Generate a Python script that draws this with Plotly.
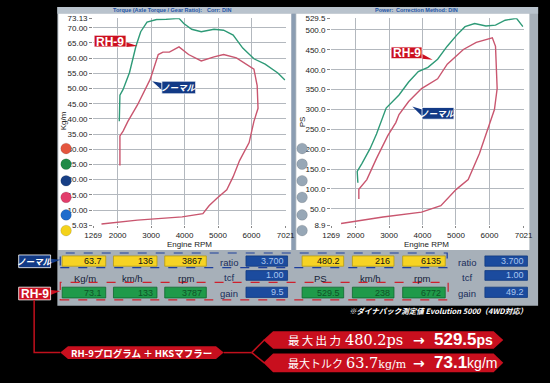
import plotly.graph_objects as go

# ---------------- data ----------------
rpm_ticks = [1269, 2000, 3000, 4000, 5000, 6000, 7021]
torque_ticks = [5.03, 10, 15, 20, 25, 30, 35, 40, 45, 50, 55, 60, 65, 70, 73.13]
torque_tick_labels = ["5.03", "10.00", "15.00", "20.00", "25.00", "30.00", "35.00", "40.00",
                      "45.00", "50.00", "55.00", "60.00", "65.00", "70.00", "73.13"]
power_ticks = [8.9, 50, 100, 150, 200, 250, 300, 350, 400, 450, 500, 529.5]
power_tick_labels = ["8.9", "50.0", "100.0", "150.0", "200.0", "250.0", "300.0", "350.0",
                     "400.0", "450.0", "500.0", "529.5"]

torque_rh9_rpm = [2050, 2069, 2164, 2356, 2547, 2690, 2879, 3165, 3451, 3642, 3834, 3977, 4214,
                  4500, 4881, 5167, 5453, 5739, 6073, 6408, 6788, 7000]
torque_rh9 = [39.2, 47.8, 49.7, 55.3, 63.9, 68.7, 71.9, 72.7, 72.8, 73.0, 73.1, 71.4, 69.5,
              68.7, 69.5, 69.2, 67.6, 63.3, 59.8, 58.0, 55.1, 52.8]

torque_normal_rpm = [2069, 2069, 2164, 2307, 2593, 2785, 2976, 3214, 3356, 3547, 3834, 4120, 4500,
                     4881, 5167, 5550, 5930, 6073, 6170, 6196, 6073, 5930, 5644, 5453, 5262, 5072,
                     4977, 4738, 4548, 3928, 2593, 1518]
torque_normal = [24.7, 34.4, 36.0, 39.2, 44.6, 48.9, 53.1, 61.2, 62.0, 62.0, 63.7, 61.2, 59.1,
                 60.4, 61.2, 60.1, 57.4, 56.4, 51.0, 43.5, 39.2, 32.2, 26.3, 21.0, 16.7, 15.1,
                 14.0, 11.5, 8.85, 7.75, 6.7, 5.4]

power_rh9_rpm = [2069, 2049, 2193, 2433, 2626, 2770, 2914, 3298, 3586, 3875, 4163, 4452, 4740,
                 5029, 5271, 5559, 5894, 6182, 6471, 6808, 7001]
power_rh9 = [115.5, 144, 164.6, 201.4, 238.3, 271, 303.6, 336.5, 369, 395.4, 406, 426.3, 459.2,
             487.7, 508.3, 516.4, 509.9, 512.3, 524.5, 529.5, 508.3]

power_normal_rpm = [2098, 2098, 2337, 2626, 2963, 3203, 3298, 3586, 3971, 4452, 4740, 5222, 5607,
                    6087, 6182, 6231, 6150, 6000, 5702, 5366, 5010, 4549, 3972, 2819, 1567]
power_normal = [74.5, 99, 123.6, 176.9, 234, 267, 287.4, 320, 352.7, 377.2, 414, 451, 469,
                480.2, 459, 352.7, 300, 262, 189.2, 123.6, 99, 58, 41.8, 29.6, 13.2]

normal_values_left = ["63.7", "136", "3867"]
normal_values_right = ["480.2", "216", "6135"]
rh9_values_left = ["73.1", "133", "3787"]
rh9_values_right = ["529.5", "238", "6772"]
col_labels_left = ["Kg/m", "km/h", "rpm"]
col_labels_right = ["PS", "km/h", "rpm"]
side_labels = ["ratio", "tcf", "gain"]
side_values_left = ["3.700", "1.00", "9.5"]
side_values_right = ["3.700", "1.00", "49.2"]

# ---------------- helpers ----------------
W, H = 550, 383
def X(p): return p / W
def Y(p): return 1 - p / H

shapes, annots = [], []

def rect(x0, y0, x1, y1, fill, line=None, lw=0, dash=None, layer="above"):
    shapes.append(dict(type="rect", xref="paper", yref="paper", x0=X(x0), x1=X(x1),
                       y0=Y(y1), y1=Y(y0), fillcolor=fill, layer=layer,
                       line=dict(color=line or "rgba(0,0,0,0)", width=lw, dash=dash)))

def poly(pts, fill, line=None, lw=0, layer="above"):
    d = "M " + " L ".join(f"{X(a):.5f},{Y(b):.5f}" for a, b in pts) + " Z"
    shapes.append(dict(type="path", xref="paper", yref="paper", path=d, fillcolor=fill,
                       layer=layer, line=dict(color=line or "rgba(0,0,0,0)", width=lw)))

def seg(pts, color, lw):
    d = "M " + " L ".join(f"{X(a):.5f},{Y(b):.5f}" for a, b in pts)
    shapes.append(dict(type="path", xref="paper", yref="paper", path=d,
                       line=dict(color=color, width=lw), layer="above"))

def circle(cx, cy, r, fill):
    shapes.append(dict(type="circle", xref="paper", yref="paper", x0=X(cx - r), x1=X(cx + r),
                       y0=Y(cy + r), y1=Y(cy - r), fillcolor=fill, layer="above",
                       line=dict(color="rgba(0,0,0,0.25)", width=0.5)))

def text(x, y, s, size=9, color="#111", family="Liberation Sans, Arial", xa="center",
         ya="middle", angle=0):
    annots.append(dict(x=X(x), y=Y(y), xref="paper", yref="paper", text=s, showarrow=False,
                       xanchor=xa, yanchor=ya, textangle=angle,
                       font=dict(size=size, color=color, family=family)))

# ---------------- panel backgrounds ----------------
rect(50, 3, 547, 309, "#a7b0b9", layer="below")
rect(50, 3, 547, 10, "#b9c3cd", layer="below")
rect(51, 10, 292, 252, "#ffffff", layer="below")
rect(297, 10, 538, 252, "#ffffff", layer="below")
rect(292, 10, 296, 252, "#8b9db2", layer="below")

text(154, 6.5, "<b>Torque (Axle Torque / Gear Ratio):</b>", 5.5, "#2456a8")
text(217, 6.5, "<b>Corr: DIN</b>", 5.5, "#2456a8")
text(388, 6.5, "<b>Power:</b>", 5.5, "#2456a8")
text(432, 6.5, "<b>Correction Method: DIN</b>", 5.5, "#2456a8")

# ---------------- colored circles ----------------
left_colors = ["#e4563f", "#1f8a47", "#173f85", "#e23d6b", "#1f6ccc", "#f4d21a"]
ys = [148, 164, 181, 198, 216, 232]
for c, yy in zip(left_colors, ys):
    circle(59, yy, 5.5, c)
    circle(303, yy, 5.5, "#97a7b6")

# axis titles
text(56, 120, "Kg/m", 8, "#222", angle=-90)
text(303, 121, "PS", 8, "#222", angle=-90)
text(187, 246, "Engine RPM", 8, "#222")
text(432, 246, "Engine RPM", 8, "#222")

# ---------------- curve labels ----------------
RED = "#cc1020"
NAVY = "#123a86"
def red_label(x0, y0, x1, y1, tail):
    poly(tail, RED)
    rect(x0, y0, x1, y1, RED, line="#ffffff", lw=0.8)
    text((x0 + x1) / 2, (y0 + y1) / 2 + 0.5, "<b>RH-9</b>", 12, "#ffffff",
         "Liberation Sans, Arial")
def navy_label(x0, y0, x1, y1, tail):
    poly(tail, NAVY)
    rect(x0, y0, x1, y1, NAVY, line="#ffffff", lw=0.8)
    text((x0 + x1) / 2, (y0 + y1) / 2, "<b><i>ノーマル</i></b>", 8.5, "#ffffff",
         "Noto Sans CJK JP")

red_label(88, 32, 121, 44, [(117, 38), (121, 44), (133, 43)])
navy_label(158, 79, 193, 92, [(158, 81), (158, 88), (148, 79)])
red_label(395, 44, 427, 56, [(425, 50), (427, 56), (438, 57)])
navy_label(427, 106, 460, 118, [(427, 108), (427, 115), (417, 105)])

# ---------------- table ----------------
rect(53, 255, 453, 270, "rgba(0,0,0,0)", line="#1d3f9c", lw=1.2, dash="dash")
rect(53, 285, 454, 303, "rgba(0,0,0,0)", line="#cf1f2c", lw=1.2, dash="dash")

def value_box(x0, x1, y0, y1, s, fill, border, tcol):
    rect(x0, y0, x1, y1, fill, line=border, lw=0.8)
    text(x1 - 2, (y0 + y1) / 2, s, 9, tcol, xa="right")

yellow_x = [(55, 100), (108, 153), (161, 204), (303, 346), (355, 398), (407, 451)]
normal_vals = normal_values_left + normal_values_right
rh9_vals = rh9_values_left + rh9_values_right
for (x0, x1), nv, rv in zip(yellow_x, normal_vals, rh9_vals):
    value_box(x0, x1, 258, 268.5, nv, "#f6d324", "#b89c10", "#111111")
    value_box(x0, x1, 290, 301, rv, "#1f9a4a", "#0f6a2e", "#0f5228")

for lab, xx in zip(col_labels_left, [79, 128, 183]):
    text(xx, 281.5, lab, 9.5, "#142036")
for lab, xx in zip(col_labels_right, [322, 374, 427]):
    text(xx, 281.5, lab, 9.5, "#142036")

for i, (lab, yy) in enumerate(zip(side_labels, [265, 280, 296.5])):
    text(227, yy, lab, 9.5, "#1a2d5a")
    text(473, yy, lab, 9.5, "#1a2d5a")
box_y = [(258, 268.5), (273, 283), (290, 300.5)]
for (y0, y1), vl, vr in zip(box_y, side_values_left, side_values_right):
    value_box(245, 288, y0, y1, vl, "#1b4b9e", "#123a80", "#a9c6ef")
    value_box(492, 536, y0, y1, vr, "#1b4b9e", "#123a80", "#a9c6ef")

# table row labels
navy_label(10, 257, 43, 270, [(43, 261), (43, 266), (53, 262)])
red_label(10, 290, 43, 303, [(43, 293), (43, 298), (53, 294)])

text(538, 313.5, "<b><i>※ダイナパック測定値 Evolution 5000（4WD対応）</i></b>", 7.5,
     "#ffffff", "Noto Sans CJK JP", xa="right")

# ---------------- bottom banners ----------------
seg([(26, 303), (26, 357), (53, 357)], "#c0101c", 1.5)
seg([(222, 357), (251, 357)], "#c0101c", 1.5)
seg([(251, 357), (264, 344)], "#c0101c", 1.5)
seg([(251, 357), (264, 367.5)], "#c0101c", 1.5)

BAN = "#c80f1e"
poly([(53, 357), (61, 350.5), (214, 350.5), (222, 357), (214, 363.5), (61, 363.5)], BAN)
text(137, 357.5, "<b>RH-9プログラム ＋ HKSマフラー</b>", 9.5, "#ffffff", "Noto Sans CJK JP")

poly([(263, 344), (273, 335), (501, 335), (511, 344), (501, 353), (273, 353)], BAN)
poly([(263, 367.5), (273, 358), (501, 358), (511, 367.5), (501, 377), (273, 377)], BAN)

SERIF = "DejaVu Serif, Liberation Serif, Noto Sans CJK JP"
CJK = "Noto Sans CJK JP"
text(286, 344.5, "最\u2009大\u2009出\u2009力", 11.5, "#ffffff", CJK, xa="left")
text(345, 344.5, "480.2ps", 14.5, "#ffffff", SERIF, xa="left")
text(424, 344, "<b>→</b>", 14, "#ffffff", "DejaVu Sans", xa="center")
text(437, 344, "<b><span style='font-size:17px'>529.5</span>ps</b>", 14, "#ffffff",
     "Liberation Sans, Arial", xa="left")

text(286, 368, "最大トルク", 11, "#ffffff", CJK, xa="left")
text(346, 368, "63.7<span style='font-size:11px'>kg/m</span>", 14.5, "#ffffff", SERIF, xa="left")
text(424, 367.5, "<b>→</b>", 14, "#ffffff", "DejaVu Sans", xa="center")
text(437, 367.5, "<b><span style='font-size:17px'>73.1</span></b>kg/m", 14, "#ffffff",
     "Liberation Sans, Arial", xa="left")

# ---------------- traces ----------------
GREEN = "#2e9a77"
PINK = "#c9566f"
fig = go.Figure()
fig.add_trace(go.Scatter(x=torque_rh9_rpm, y=torque_rh9, mode="lines", name="RH-9",
                         line=dict(color=GREEN, width=1.4), xaxis="x", yaxis="y"))
fig.add_trace(go.Scatter(x=torque_normal_rpm, y=torque_normal, mode="lines", name="ノーマル",
                         line=dict(color=PINK, width=1.4), xaxis="x", yaxis="y"))
fig.add_trace(go.Scatter(x=power_rh9_rpm, y=power_rh9, mode="lines", name="RH-9",
                         line=dict(color=GREEN, width=1.4), xaxis="x2", yaxis="y2"))
fig.add_trace(go.Scatter(x=power_normal_rpm, y=power_normal, mode="lines", name="ノーマル",
                         line=dict(color=PINK, width=1.4), xaxis="x2", yaxis="y2"))

GRID = "#b3b8be"
tickfont = dict(size=8, color="#222", family="Liberation Sans, Arial")
xcommon = dict(range=[1269, 7021], tickvals=rpm_ticks, ticktext=[str(v) for v in rpm_ticks],
               showgrid=True, gridcolor=GRID, gridwidth=1, zeroline=False, ticks="outside",
               ticklen=2, tickcolor="#888", tickfont=tickfont, showline=False)
ycommon = dict(showgrid=True, gridcolor=GRID, gridwidth=1, zeroline=False, ticks="outside",
               ticklen=3, tickcolor="#888", tickfont=tickfont, showline=False)

fig.update_layout(
    width=W, height=H, margin=dict(l=0, r=0, t=0, b=0),
    paper_bgcolor="#000000", plot_bgcolor="#ffffff", showlegend=False,
    xaxis=dict(domain=[X(87), X(286)], anchor="y", **xcommon),
    yaxis=dict(domain=[Y(226.5), Y(14.6)], anchor="x", range=[5.03, 73.13],
               tickvals=torque_ticks, ticktext=torque_tick_labels, **ycommon),
    xaxis2=dict(domain=[X(333), X(532)], anchor="y2", **xcommon),
    yaxis2=dict(domain=[Y(226.5), Y(14.6)], anchor="x2", range=[8.9, 529.5],
                tickvals=power_ticks, ticktext=power_tick_labels, **ycommon),
    shapes=shapes, annotations=annots,
)

fig.write_html("out.html", config={"displayModeBar": False},
               post_script="document.body.style.margin='0px';"
                           "document.body.style.background='#000000';")
